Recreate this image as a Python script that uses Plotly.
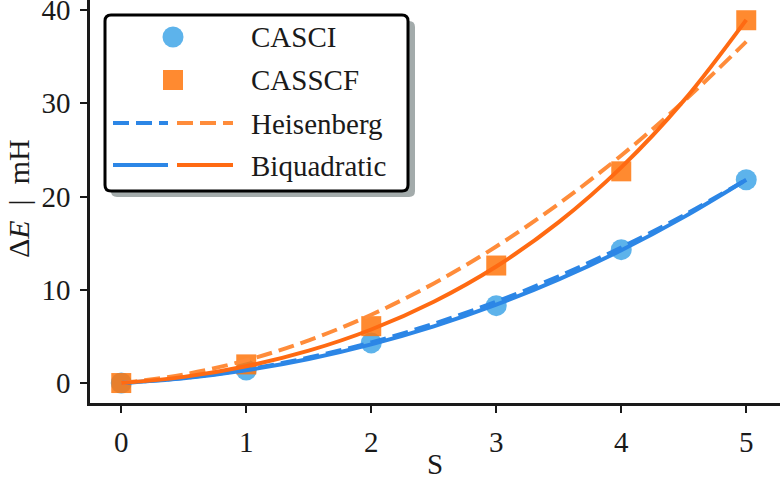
import plotly.graph_objects as go

# ---- data ----
S_points = [0, 1, 2, 3, 4, 5]
casci = [0.0, 1.4, 4.3, 8.3, 14.3, 21.8]
casscf = [0.0, 2.0, 6.1, 12.6, 22.7, 38.9]

S_fit = [0, 0.5, 1, 1.5, 2, 2.5, 3, 3.5, 4, 4.5, 5]
casci_heis = [0.0, 0.55, 1.45, 2.73, 4.36, 6.36, 8.72, 11.45, 14.54, 17.99, 21.81]
casci_biq = [0.0, 0.51, 1.37, 2.58, 4.15, 6.08, 8.40, 11.11, 14.23, 17.79, 21.79]
casscf_heis = [0.0, 0.92, 2.44, 4.58, 7.32, 10.68, 14.64, 19.22, 24.40, 30.20, 36.60]
casscf_biq = [0.0, 0.66, 1.80, 3.47, 5.74, 8.72, 12.50, 17.25, 23.12, 30.28, 38.94]

x_ticks = [0, 1, 2, 3, 4, 5]
y_ticks = [0, 10, 20, 30, 40]
legend_labels = ["CASCI", "CASSCF", "Heisenberg", "Biquadratic"]

# ---- styles ----
FONT = "Liberation Serif"
FS = 29
C_MARK_BLUE = "rgba(65,166,231,0.85)"
C_MARK_ORANGE = "rgba(255,118,12,0.85)"
C_LINE_BLUE = "#2C86E6"
C_LINE_ORANGE = "#FF6A12"
C_DASH_ORANGE = "#FF8C3A"
DASH = "16px,7px"
LW = 4

W, H = 780, 482
L, R, T, B = 90, 0, 0, 79
PW, PH = W - L - R, H - T - B


def px(xp):
    return (xp - L) / PW


def py(yp):
    return (H - B - yp) / PH


fig = go.Figure()
fig.add_trace(go.Scatter(x=S_points, y=casci, mode="markers",
                         marker=dict(symbol="circle", size=21, color=C_MARK_BLUE, line=dict(width=0))))
fig.add_trace(go.Scatter(x=S_points, y=casscf, mode="markers",
                         marker=dict(symbol="square", size=20, color=C_MARK_ORANGE, line=dict(width=0))))
fig.add_trace(go.Scatter(x=S_fit, y=casci_heis, mode="lines", line_shape="spline",
                         line=dict(color=C_LINE_BLUE, width=LW, dash=DASH)))
fig.add_trace(go.Scatter(x=S_fit, y=casci_biq, mode="lines", line_shape="spline",
                         line=dict(color=C_LINE_BLUE, width=LW)))
fig.add_trace(go.Scatter(x=S_fit, y=casscf_heis, mode="lines", line_shape="spline",
                         line=dict(color=C_DASH_ORANGE, width=LW, dash=DASH)))
fig.add_trace(go.Scatter(x=S_fit, y=casscf_biq, mode="lines", line_shape="spline",
                         line=dict(color=C_LINE_ORANGE, width=LW)))

shapes = []


def rounded_path(x0, y0, x1, y1, r):
    pts = [
        ("M", (x0 + r, y0)), ("L", (x1 - r, y0)), ("Q", (x1, y0), (x1, y0 + r)),
        ("L", (x1, y1 - r)), ("Q", (x1, y1), (x1 - r, y1)),
        ("L", (x0 + r, y1)), ("Q", (x0, y1), (x0, y1 - r)),
        ("L", (x0, y0 + r)), ("Q", (x0, y0), (x0 + r, y0)),
    ]
    s = ""
    for item in pts:
        cmd = item[0]
        coords = " ".join(f"{px(a):.5f},{py(b):.5f}" for a, b in item[1:])
        s += f"{cmd} {coords} "
    return s + "Z"


# legend shadow and box
shapes.append(dict(type="path", xref="paper", yref="paper",
                   path=rounded_path(111, 21, 415, 197, 6),
                   fillcolor="#A3ABAB", line=dict(width=0), layer="above"))
shapes.append(dict(type="path", xref="paper", yref="paper",
                   path=rounded_path(105, 15, 408, 191, 6),
                   fillcolor="white", line=dict(color="black", width=3), layer="above"))

# legend symbols
mx = 173
shapes.append(dict(type="circle", xref="paper", yref="paper",
                   x0=px(mx - 10.5), x1=px(mx + 10.5), y0=py(37 + 10.5), y1=py(37 - 10.5),
                   fillcolor=C_MARK_BLUE, line=dict(width=0), layer="above"))
shapes.append(dict(type="rect", xref="paper", yref="paper",
                   x0=px(mx - 10), x1=px(mx + 10), y0=py(80 + 10), y1=py(80 - 10),
                   fillcolor=C_MARK_ORANGE, line=dict(width=0), layer="above"))
for (xa, xb, col, dash, yy) in [
    (113, 168, C_LINE_BLUE, DASH, 123), (177, 233, C_DASH_ORANGE, DASH, 123),
    (113, 168, C_LINE_BLUE, "solid", 165), (177, 233, C_LINE_ORANGE, "solid", 165),
]:
    shapes.append(dict(type="line", xref="paper", yref="paper",
                       x0=px(xa), x1=px(xb), y0=py(yy), y1=py(yy),
                       line=dict(color=col, width=LW, dash=dash), layer="above"))

annotations = []
for lab, yy in zip(legend_labels, [37, 80, 124, 166]):
    annotations.append(dict(text=lab, xref="paper", yref="paper", x=px(249), y=py(yy),
                            xanchor="left", yanchor="middle", showarrow=False,
                            font=dict(family=FONT, size=FS, color="#1a1a1a")))
annotations.append(dict(text="Δ<i>E</i>\u2002|\u2002mH", xref="paper", yref="paper", x=px(18), y=py(199),
                        xanchor="center", yanchor="middle", textangle=-90, showarrow=False,
                        font=dict(family=FONT, size=30, color="#1a1a1a")))
annotations.append(dict(text="S", xref="paper", yref="paper", x=px(435), y=py(464),
                        xanchor="center", yanchor="middle", showarrow=False,
                        font=dict(family=FONT, size=FS, color="#1a1a1a")))

fig.update_layout(
    width=W, height=H,
    margin=dict(l=L, r=R, t=T, b=B, autoexpand=False),
    paper_bgcolor="white", plot_bgcolor="white",
    showlegend=False,
    shapes=shapes, annotations=annotations,
    font=dict(family=FONT, size=FS, color="#1a1a1a"),
)
fig.update_xaxes(range=[-0.25, 5.27], tickvals=x_ticks, ticks="outside", ticklen=7, tickwidth=2,
                 tickcolor="#1a1a1a", showline=True, linecolor="#1a1a1a", linewidth=2.5,
                 showgrid=False, zeroline=False, tickfont=dict(family=FONT, size=FS),
                 ticklabelstandoff=4, automargin=False, ticklabeloverflow="allow")
fig.update_yaxes(range=[-2.14, 41.07], tickvals=y_ticks, ticks="outside", ticklen=7, tickwidth=2,
                 tickcolor="#1a1a1a", showline=True, linecolor="#1a1a1a", linewidth=2.5,
                 showgrid=False, zeroline=False, tickfont=dict(family=FONT, size=FS),
                 ticklabelstandoff=4, automargin=False, ticklabeloverflow="allow")

fig.write_html("out.html", config={"displayModeBar": False},
               post_script="document.body.style.margin='0';document.body.style.overflow='hidden';")
